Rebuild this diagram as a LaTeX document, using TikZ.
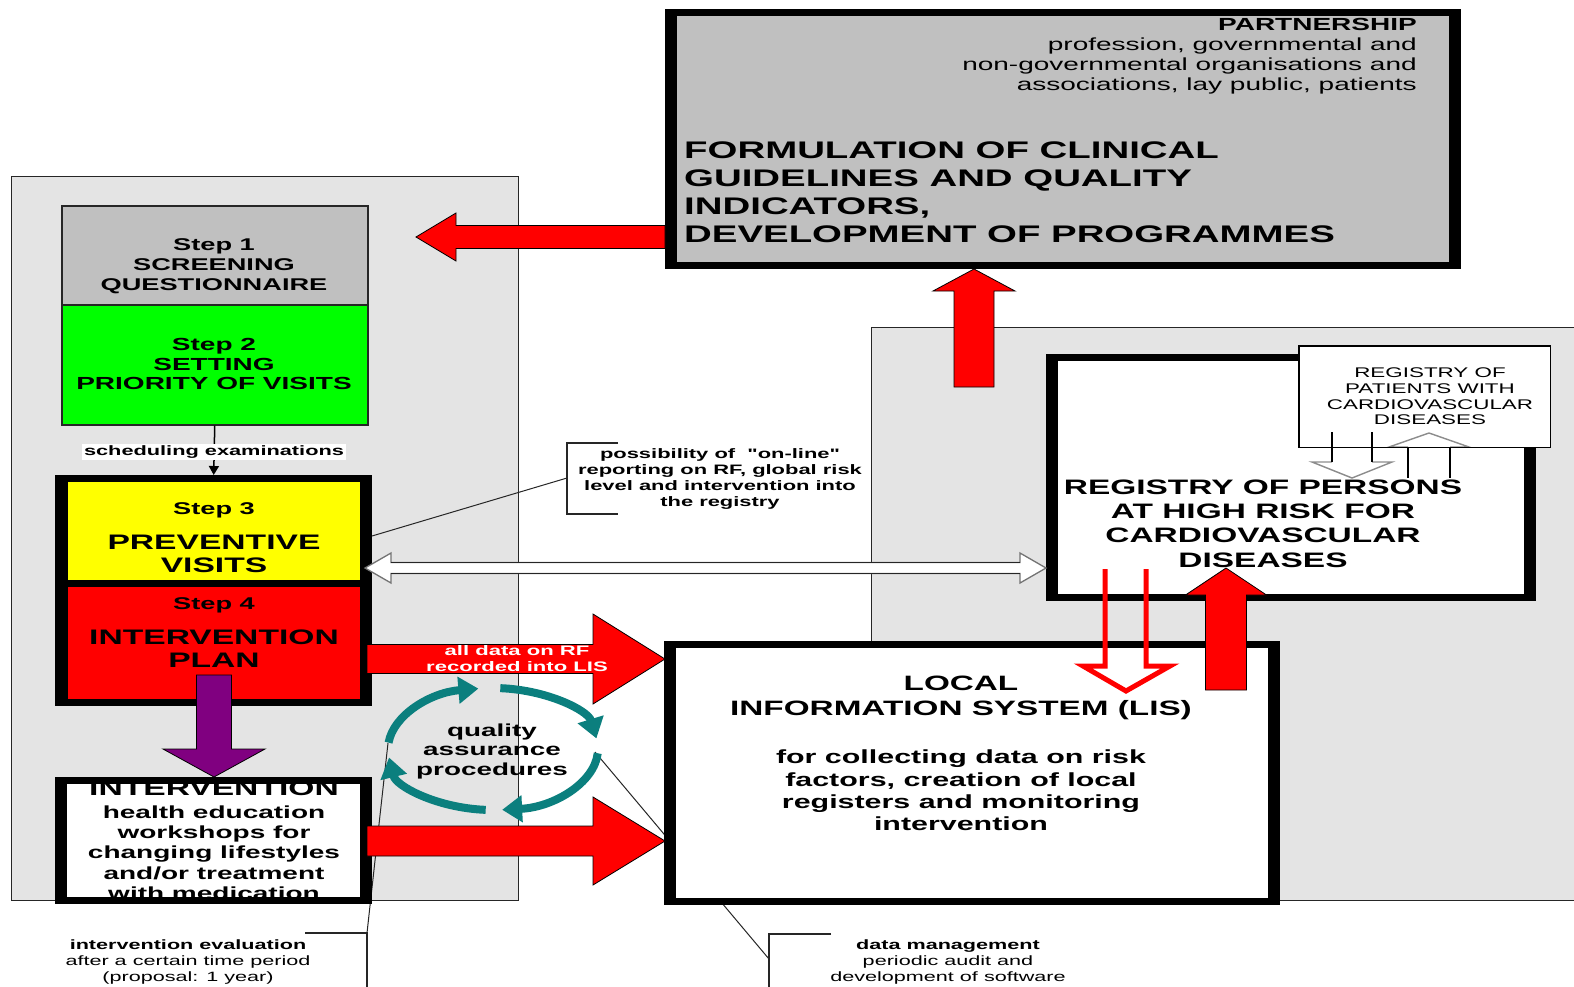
\documentclass[tikz,border=0pt]{standalone}
\usepackage{fontspec}
\setmainfont{Liberation Sans}[FakeStretch=1.6]
\newfontfamily\plainquote{Liberation Sans}[FakeStretch=1.6, Ligatures=ResetAll]
\usetikzlibrary{arrows.meta}
\definecolor{panelgray}{HTML}{E4E4E4}
\definecolor{boxgray}{HTML}{C0C0C0}
\definecolor{stepgreen}{HTML}{00FF00}
\definecolor{stepyellow}{HTML}{FFFF00}
\definecolor{stepred}{HTML}{FF0000}
\definecolor{arrowpurple}{HTML}{800080}
\definecolor{qateal}{HTML}{0B7F7E}
\newcommand{\fsz}[2]{\fontsize{#1}{#2}\selectfont}
\newcommand{\sq}{{\plainquote\bfseries "}}
\newcommand{\thickbox}[6]{%
  \node[fill=black, inner sep=0pt, outer sep=0pt, anchor=north west,
        minimum width={#4-#2}, minimum height={#5-#3}] (#1) at (#2,#3) {};
  \fill[#6] ({#2+12},{#3+7}) rectangle ({#4-12},{#5-7});}
\newcommand{\harrowshape}[7]{%
  \filldraw[#1] (#2,{#4-#5}) -- (#7,{#4-#5}) -- (#7,{#4-#6}) -- (#3,#4)
     -- (#7,{#4+#6}) -- (#7,{#4+#5}) -- (#2,{#4+#5}) -- cycle;}
\newcommand{\varrowshape}[7]{%
  \filldraw[#1] ({#4-#5},#2) -- ({#4-#5},#7) -- ({#4-#6},#7) -- (#4,#3)
     -- ({#4+#6},#7) -- ({#4+#5},#7) -- ({#4+#5},#2) -- cycle;}
\begin{document}
\begin{tikzpicture}[x=1pt,y=-1pt,
  lbl/.style={inner sep=0pt, align=center},
  panel/.style={fill=panelgray, draw=black!85, line width=1.2pt, inner sep=0pt, anchor=north west},
  leader/.style={draw=black!85, line width=1.3pt},
  redarrow/.style={fill=stepred, draw=black, line width=0.8pt},
  qaarc/.style={draw=qateal, line width=8pt, -{Triangle[length=20pt,width=26pt]}},
]
\useasboundingbox (0,0) rectangle (1574,986);
% panels
\node[panel, minimum width=507, minimum height=724] (leftpanel) at (11,176) {};
\node[panel, minimum width=720, minimum height=573] (rightpanel) at (871,327) {};
% leaders passing behind boxes
\coordinate (qaL) at (388,743);
\coordinate (qaR) at (595,752);
\coordinate (evC) at (367,933);
\coordinate (dmC) at (769,959);
\draw[leader, line width=1pt] (qaR) -- (dmC);
\draw[leader, line width=1pt] (qaL) -- (evC);
% thick boxes
\thickbox{topbox}{665}{9}{1461}{269}{boxgray}
\thickbox{registry}{1046}{354}{1536}{601}{white}
\thickbox{lis}{664}{641}{1280}{905}{white}
\thickbox{interv}{55}{777}{372}{904}{white}
\node[fill=black, inner sep=0pt, anchor=north west, minimum width=317, minimum height=231] (step34) at (55,475) {};
\fill[stepyellow] (68,482) rectangle (360,580);
\fill[stepred] (68,587) rectangle (360,699);
\node[draw=black!85, line width=1.5pt, fill=boxgray, anchor=north west, minimum width=306, minimum height=99, inner sep=0pt] (step1) at (61,205) {};
\node[draw=black!85, line width=1.5pt, fill=stepgreen, anchor=north west, minimum width=306, minimum height=120, inner sep=0pt] (step2) at (61,304) {};
% step 2 -> step 3
\draw[line width=1.5pt, -{Triangle[length=9pt,width=10pt]}] (step2.south) -- (step34.north);
\node[lbl, fill=white, inner xsep=2pt, inner ysep=1.5pt, font=\bfseries\fsz{13.6}{16}] (sched) at (214,452) {scheduling examinations};
% patients box and small hollow arrows
\node[fill=white, inner sep=0pt, anchor=north west, minimum width=251, minimum height=101] (patients) at (1299,346) {};
\draw[draw=black!45, line width=1.4pt] (1332,462) -- (1312,462) -- (1352,478) -- (1392,462) -- (1372,462);
\draw[line width=1.6pt] (1332,432) -- (1332,462) (1372,432) -- (1372,462);
\filldraw[fill=white, draw=black!45, line width=1.4pt] (1408,447) -- (1389,447) -- (1429,433) -- (1469,447) -- (1450,447);
\draw[line width=1.6pt] (1408,447) -- (1408,478) (1450,447) -- (1450,478);
\draw[line width=1.5pt] (patients.north west) rectangle (patients.south east);
% texts
\node[lbl, anchor=east, align=right, font=\fsz{17.5}{20}] (partner) at (1417,56) {\textbf{PARTNERSHIP}\\profession, governmental and\\non-governmental organisations and\\associations, lay public, patients};
\node[lbl, anchor=west, align=left, font=\bfseries\fsz{24}{28}] (formul) at (684,192) {FORMULATION OF CLINICAL\\GUIDELINES AND QUALITY\\INDICATORS,\\DEVELOPMENT OF PROGRAMMES};
\node[lbl, font=\bfseries\fsz{17}{20}] (s1txt) at (214,266) {Step 1\\SCREENING\\QUESTIONNAIRE};
\node[lbl, font=\bfseries\fsz{17.5}{19.5}] (s2txt) at (214,364) {Step 2\\SETTING\\PRIORITY OF VISITS};
\node[lbl, font=\bfseries\fsz{17}{20}] (s3lab) at (214,510) {Step 3};
\node[lbl, font=\bfseries\fsz{21}{23}] (s3txt) at (214,553.5) {PREVENTIVE\\VISITS};
\node[lbl, font=\bfseries\fsz{17}{20}] (s4lab) at (214,605) {Step 4};
\node[lbl, font=\bfseries\fsz{21}{23}] (s4txt) at (214,648.5) {INTERVENTION\\PLAN};
\begin{scope}
\clip (68,784) rectangle (360,897);
\node[lbl, font=\bfseries\fsz{21}{23}] (intvhead) at (214,788) {INTERVENTION};
\node[lbl, font=\bfseries\fsz{17.5}{20.25}] (intvtxt) at (214,852.5) {health education\\workshops for\\changing lifestyles\\and/or treatment\\with medication};
\end{scope}
\node[lbl, font=\bfseries\fsz{13.7}{16}] (poss) at (720,478.5) {possibility of \ \sq on-line\sq\\reporting on RF, global risk\\level and intervention into\\the registry};
\node[lbl, font=\bfseries\fsz{20.8}{25}] (lishead) at (961,698) {LOCAL\\INFORMATION SYSTEM (LIS)};
\node[lbl, font=\bfseries\fsz{19}{22.3}] (listxt) at (961,790.5) {for collecting data on risk\\factors, creation of local\\registers and monitoring\\intervention};
\node[lbl, font=\bfseries\fsz{20.9}{24.3}] (regtxt) at (1263,523.5) {REGISTRY OF PERSONS\\AT HIGH RISK FOR\\CARDIOVASCULAR\\DISEASES};
\node[lbl, font=\fsz{14}{15.7}] (pattxt) at (1430,396.5) {REGISTRY OF\\PATIENTS WITH\\CARDIOVASCULAR\\DISEASES};
\node[lbl, font=\fsz{13.5}{16}] (evtxt) at (188,961.5) {\textbf{intervention evaluation}\\after a certain time period\\(proposal: 1 year)};
\node[lbl, font=\fsz{13.5}{16}] (dmtxt) at (948,961.5) {\textbf{data management}\\periodic audit and\\development of software};
% callout brackets
\draw[leader] (618,443) -- (567,443) -- (567,514) -- (618,514);
\coordinate (possC) at (567,478);
\coordinate (possT) at (372,536);
\draw[leader, line width=1pt] (possC) -- (possT);
\draw[leader] (305,933) -- (evC) -- (367,990);
\draw[leader] (831,934) -- (769,934) -- (769,990);
% block arrows
\harrowshape{redarrow}{665}{416}{237}{11.5}{24}{456}
\varrowshape{redarrow}{387}{269}{974}{20}{41}{291}
\varrowshape{fill=arrowpurple, draw=black, line width=0.8pt}{675}{777}{214}{17.5}{51}{749}
\harrowshape{redarrow}{367}{665}{659}{14.5}{45}{593}
\harrowshape{redarrow}{367}{665}{841}{15}{44}{593}
\varrowshape{redarrow}{690}{568}{1226}{20.5}{40.5}{595}
\draw[stepred, line width=5pt, line join=miter] (1105,569) -- (1105,666) -- (1083,666) -- (1126,691) -- (1170,666) -- (1146,666) -- (1146,569);
\node[lbl, text=white, font=\bfseries\fsz{13.8}{16.5}] (alldata) at (517,658.5) {all data on RF\\recorded into LIS};
% double hollow arrow
\filldraw[fill=white, draw=black!55, line width=1.3pt] (365,568) -- (391,553) -- (391,562.5) -- (1020,562.5) -- (1020,553) -- (1046,568) -- (1020,583) -- (1020,573.5) -- (391,573.5) -- (391,583) -- cycle;
\draw[black!85, line width=1.5pt] (391,562.5) -- (1020,562.5) (391,573.5) -- (1020,573.5);
% quality assurance cycle
\coordinate (qa) at (493,749);
\foreach \a/\b in {186/262, 274/350, 4/85, 94/172}
  \draw[qaarc] ([shift={(\a:105 and 61)}]qa) arc[start angle=\a, end angle=\b, x radius=105, y radius=61];
\node[lbl, font=\bfseries\fsz{17.4}{19.5}] (qatxt) at (492,751) {quality\\assurance\\procedures};
\end{tikzpicture}
\end{document}
